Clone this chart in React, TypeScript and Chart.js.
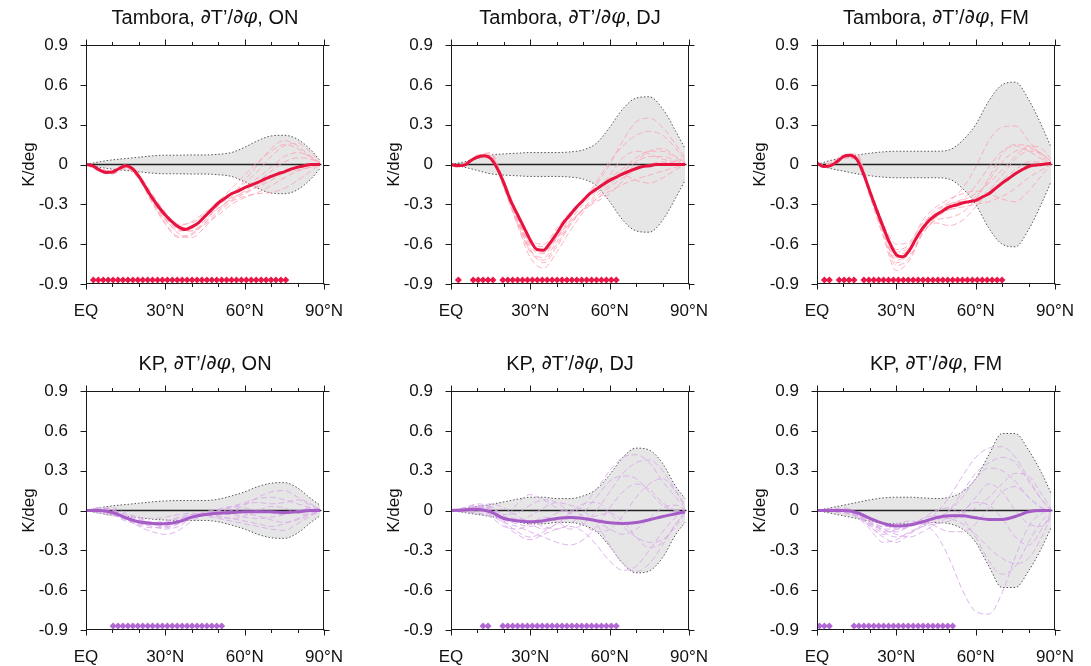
import React, { useEffect, useRef } from 'react';
import { Chart, registerables } from 'chart.js';

Chart.register(...registerables);

const FONT = '"Liberation Sans", Arial, Helvetica, sans-serif';

// ---------- grids & ticks ----------
const LAT_FINE = [0, 2.5, 5, 7.5, 10, 12.5, 15, 17.5, 20, 22.5, 25, 27.5, 30, 32.5, 35, 37.5, 40, 42.5, 45, 47.5, 50, 52.5, 55, 57.5, 60, 62.5, 65, 67.5, 70, 72.5, 75, 77.5, 80, 82.5, 85, 88.5];
const LAT5 = [0, 5, 10, 15, 20, 25, 30, 35, 40, 45, 50, 55, 60, 65, 70, 75, 80, 85, 88.5];
const GAUSS_LAT = [0.93, 2.8, 4.66, 6.53, 8.39, 10.26, 12.12, 13.99, 15.86, 17.72, 19.59, 21.45, 23.32, 25.18, 27.05, 28.91, 30.78, 32.64, 34.51, 36.37, 38.24, 40.1, 41.97, 43.83, 45.7, 47.57, 49.43, 51.3, 53.16, 55.03, 56.89, 58.76, 60.62, 62.49, 64.35, 66.22, 68.08, 69.95, 71.81, 73.68, 75.54, 77.41, 79.27, 81.14, 83.0, 84.87, 86.72, 88.57];
const SIG_Y = -0.87;

const X_TICKS = [0, 30, 60, 90];
const X_TICK_LABELS = ['EQ', '30°N', '60°N', '90°N'];
const X_MINOR = [0, 10, 20, 30, 40, 50, 60, 70, 80, 90];
const Y_TICKS = [-0.9, -0.6, -0.3, 0, 0.3, 0.6, 0.9];
const Y_TICK_LABELS = ['-0.9', '-0.6', '-0.3', '0', '0.3', '0.6', '0.9'];

// ---------- Tambora ----------
const TAMBORA_ON_MEAN = [0, -0.01, -0.04, -0.06, -0.057, -0.03, -0.01, -0.03, -0.09, -0.17, -0.25, -0.32, -0.38, -0.43, -0.47, -0.49, -0.47, -0.44, -0.39, -0.34, -0.29, -0.255, -0.22, -0.2, -0.175, -0.155, -0.135, -0.11, -0.09, -0.07, -0.055, -0.035, -0.02, -0.01, 0, 0];
const TAMBORA_DJ_MEAN = [0, -0.01, -0.005, 0.03, 0.055, 0.065, 0.045, -0.03, -0.14, -0.27, -0.37, -0.47, -0.57, -0.64, -0.645, -0.59, -0.52, -0.44, -0.38, -0.32, -0.27, -0.22, -0.185, -0.15, -0.12, -0.095, -0.07, -0.05, -0.03, -0.015, -0.01, 0, 0, 0, 0, 0];
const TAMBORA_FM_MEAN = [0.01, -0.015, -0.01, 0.02, 0.06, 0.07, 0.04, -0.065, -0.205, -0.34, -0.47, -0.59, -0.68, -0.695, -0.645, -0.555, -0.48, -0.42, -0.38, -0.35, -0.32, -0.305, -0.29, -0.28, -0.27, -0.245, -0.22, -0.18, -0.14, -0.105, -0.07, -0.04, -0.015, -0.005, 0, 0.01];

const TAMBORA_ON_ENV = [0, 0.02, 0.035, 0.045, 0.055, 0.065, 0.07, 0.07, 0.072, 0.072, 0.077, 0.09, 0.13, 0.18, 0.215, 0.22, 0.19, 0.11, 0.03];
const TAMBORA_DJ_ENV = [0, 0.02, 0.045, 0.07, 0.08, 0.085, 0.09, 0.09, 0.09, 0.095, 0.11, 0.16, 0.28, 0.42, 0.5, 0.51, 0.42, 0.25, 0.12];
const TAMBORA_FM_ENV = [0, 0.03, 0.05, 0.07, 0.085, 0.095, 0.1, 0.1, 0.1, 0.1, 0.11, 0.18, 0.3, 0.48, 0.6, 0.62, 0.49, 0.29, 0.13];

const TAMBORA_ON_MEMBERS = [
  [0, -0.03, -0.06, -0.02, -0.1, -0.27, -0.42, -0.5, -0.5, -0.42, -0.33, -0.27, -0.22, -0.17, -0.12, -0.06, -0.02, 0, 0],
  [0, -0.04, -0.07, -0.03, -0.08, -0.22, -0.36, -0.45, -0.44, -0.37, -0.28, -0.18, -0.08, 0.02, 0.1, 0.15, 0.12, 0.05, 0.01],
  [0, -0.03, -0.05, 0, -0.09, -0.26, -0.41, -0.52, -0.55, -0.47, -0.36, -0.28, -0.24, -0.22, -0.21, -0.18, -0.12, -0.05, 0],
  [0, -0.05, -0.07, -0.02, -0.11, -0.28, -0.44, -0.54, -0.52, -0.43, -0.31, -0.22, -0.14, -0.05, 0.06, 0.14, 0.16, 0.09, 0.02],
  [0, -0.04, -0.06, -0.01, -0.08, -0.24, -0.38, -0.47, -0.48, -0.4, -0.33, -0.26, -0.2, -0.13, -0.05, 0.02, 0.05, 0.04, 0],
  [0, -0.03, -0.06, -0.02, -0.1, -0.27, -0.4, -0.46, -0.43, -0.36, -0.3, -0.25, -0.21, -0.16, -0.1, -0.06, -0.04, -0.02, 0],
  [0, -0.04, -0.07, -0.03, -0.11, -0.29, -0.45, -0.55, -0.53, -0.44, -0.35, -0.24, -0.12, 0, 0.12, 0.18, 0.14, 0.06, 0.01],
  [0, -0.04, -0.05, -0.01, -0.09, -0.25, -0.4, -0.49, -0.5, -0.45, -0.38, -0.3, -0.25, -0.21, -0.16, -0.1, -0.05, -0.02, 0],
  [0, -0.03, -0.06, -0.02, -0.1, -0.26, -0.39, -0.48, -0.47, -0.39, -0.3, -0.23, -0.17, -0.1, -0.02, 0.06, 0.09, 0.06, 0.01],
];
const TAMBORA_DJ_MEMBERS = [
  [0, 0, 0.06, 0.07, -0.16, -0.4, -0.6, -0.66, -0.55, -0.4, -0.28, -0.15, 0, 0.18, 0.32, 0.35, 0.28, 0.15, 0.05],
  [0, -0.01, 0.05, 0.05, -0.14, -0.38, -0.58, -0.62, -0.5, -0.38, -0.27, -0.13, 0.02, 0.14, 0.22, 0.25, 0.22, 0.12, 0.03],
  [0, 0, 0.07, 0.08, -0.18, -0.44, -0.66, -0.72, -0.6, -0.45, -0.33, -0.22, -0.12, -0.05, 0.02, 0.06, 0.06, 0.03, 0.01],
  [0, -0.01, 0.05, 0.06, -0.15, -0.42, -0.65, -0.7, -0.58, -0.44, -0.34, -0.26, -0.2, -0.15, -0.11, -0.08, -0.05, -0.02, 0],
  [0, 0, 0.06, 0.09, -0.12, -0.36, -0.56, -0.6, -0.48, -0.36, -0.26, -0.18, -0.1, -0.03, 0.05, 0.1, 0.1, 0.05, 0.01],
  [0, -0.01, 0.06, 0.06, -0.17, -0.45, -0.7, -0.78, -0.66, -0.5, -0.36, -0.26, -0.17, -0.1, -0.04, 0, 0.02, 0.01, 0],
  [0, 0, 0.05, 0.07, -0.15, -0.4, -0.62, -0.67, -0.56, -0.42, -0.3, -0.2, -0.08, 0.05, 0.1, 0.08, 0.04, 0.02, 0],
  [0, -0.01, 0.07, 0.06, -0.16, -0.42, -0.64, -0.74, -0.62, -0.46, -0.34, -0.24, -0.15, -0.08, -0.12, -0.14, -0.1, -0.04, 0],
  [0, 0, 0.06, 0.05, -0.14, -0.39, -0.6, -0.64, -0.55, -0.43, -0.34, -0.28, -0.22, -0.12, 0.02, 0.1, 0.12, 0.06, 0.02],
];
const TAMBORA_FM_MEMBERS = [
  [0, 0, 0.06, 0.05, -0.2, -0.48, -0.66, -0.62, -0.46, -0.36, -0.28, -0.18, -0.02, 0.18, 0.28, 0.29, 0.18, 0.06, 0],
  [0, -0.01, 0.05, 0.04, -0.22, -0.5, -0.72, -0.66, -0.48, -0.4, -0.34, -0.3, -0.24, -0.12, 0.02, 0.1, 0.12, 0.08, 0.02],
  [0, 0.01, 0.07, 0.06, -0.18, -0.44, -0.6, -0.58, -0.44, -0.37, -0.34, -0.32, -0.3, -0.28, -0.24, -0.18, -0.1, -0.04, 0],
  [0, -0.01, 0.06, 0.07, -0.24, -0.54, -0.8, -0.72, -0.52, -0.42, -0.4, -0.36, -0.26, -0.1, 0.08, 0.15, 0.14, 0.08, 0.02],
  [0, 0, 0.05, 0.05, -0.21, -0.47, -0.68, -0.64, -0.5, -0.44, -0.46, -0.42, -0.32, -0.2, -0.08, 0.04, 0.1, 0.08, 0.02],
  [0, 0, 0.07, 0.08, -0.19, -0.45, -0.64, -0.6, -0.42, -0.32, -0.26, -0.22, -0.2, -0.22, -0.26, -0.28, -0.2, -0.08, 0],
  [0, -0.01, 0.06, 0.06, -0.23, -0.52, -0.76, -0.7, -0.5, -0.38, -0.3, -0.26, -0.16, -0.02, 0.1, 0.14, 0.1, 0.04, 0],
  [0, 0.01, 0.05, 0.04, -0.2, -0.48, -0.7, -0.68, -0.52, -0.4, -0.32, -0.28, -0.28, -0.22, -0.12, -0.04, 0.02, 0.02, 0],
  [0, 0, 0.06, 0.05, -0.22, -0.5, -0.74, -0.66, -0.46, -0.34, -0.3, -0.27, -0.22, -0.14, -0.04, 0.06, 0.14, 0.12, 0.04],
];

// ---------- KP ----------
const KP_ON_MEAN = [0, 0, -0.015, -0.055, -0.085, -0.097, -0.1, -0.085, -0.05, -0.03, -0.02, -0.015, -0.01, -0.01, -0.01, -0.015, -0.01, 0, 0];
const KP_DJ_MEAN = [0, 0.004, 0.01, -0.01, -0.06, -0.077, -0.085, -0.077, -0.06, -0.052, -0.06, -0.077, -0.092, -0.097, -0.09, -0.07, -0.045, -0.025, -0.01];
const KP_FM_MEAN = [0, 0, 0, -0.015, -0.06, -0.097, -0.117, -0.11, -0.085, -0.055, -0.04, -0.04, -0.055, -0.067, -0.067, -0.045, -0.01, 0, 0];

const KP_ON_ENV = [0, 0.02, 0.035, 0.045, 0.055, 0.065, 0.072, 0.075, 0.075, 0.075, 0.085, 0.11, 0.14, 0.18, 0.205, 0.21, 0.17, 0.09, 0.04];
const KP_DJ_ENV = [0, 0.015, 0.03, 0.045, 0.065, 0.085, 0.1, 0.1, 0.09, 0.09, 0.11, 0.16, 0.27, 0.4, 0.47, 0.455, 0.355, 0.18, 0.09];
const KP_FM_ENV = [0, 0.02, 0.04, 0.06, 0.08, 0.095, 0.1, 0.1, 0.095, 0.09, 0.1, 0.14, 0.24, 0.42, 0.58, 0.58, 0.455, 0.28, 0.13];

const KP_ON_MEMBERS = [
  [0, 0.02, 0, -0.06, -0.12, -0.16, -0.18, -0.15, -0.08, -0.03, 0, 0.03, 0.06, 0.09, 0.1, 0.08, 0.05, 0.02, 0],
  [0, -0.01, -0.03, -0.08, -0.1, -0.12, -0.14, -0.12, -0.06, -0.04, -0.05, -0.06, -0.08, -0.1, -0.12, -0.1, -0.06, -0.02, 0],
  [0, 0.01, 0.02, -0.02, -0.05, -0.06, -0.05, -0.03, -0.02, -0.03, -0.02, 0, 0.04, 0.1, 0.14, 0.15, 0.1, 0.05, 0.01],
  [0, -0.02, -0.04, -0.05, -0.08, -0.1, -0.13, -0.1, -0.05, -0.02, -0.04, -0.06, -0.04, 0, 0.03, 0.02, -0.02, -0.03, -0.01],
  [0, 0.01, 0, -0.04, -0.07, -0.09, -0.08, -0.05, -0.03, -0.04, -0.06, -0.08, -0.1, -0.12, -0.14, -0.15, -0.1, -0.04, 0],
  [0, 0, -0.02, -0.06, -0.1, -0.1, -0.09, -0.06, -0.04, -0.01, 0.01, 0.03, 0.02, 0, -0.02, -0.03, 0, 0.02, 0.01],
  [0, -0.01, -0.01, -0.03, -0.06, -0.09, -0.12, -0.1, -0.06, -0.03, 0, 0.02, 0.05, 0.06, 0.05, 0.06, 0.08, 0.04, 0.01],
  [0, 0.02, 0.01, -0.05, -0.09, -0.11, -0.1, -0.08, -0.05, -0.04, -0.03, -0.03, -0.05, -0.06, -0.05, -0.03, 0, 0.01, 0],
  [0, 0, -0.03, -0.07, -0.11, -0.13, -0.12, -0.07, -0.03, -0.02, -0.01, 0.01, -0.02, -0.04, -0.07, -0.09, -0.07, -0.03, 0],
];
const KP_DJ_MEMBERS = [
  [0, 0.02, 0.04, 0, -0.06, 0.05, 0.12, 0.08, 0.02, -0.02, 0.04, 0.16, 0.3, 0.4, 0.42, 0.36, 0.22, 0.1, 0.02],
  [0, 0.01, 0.02, 0.03, -0.1, -0.18, -0.22, -0.18, -0.14, -0.12, -0.16, -0.26, -0.38, -0.45, -0.42, -0.3, -0.16, -0.05, 0],
  [0, 0, -0.02, -0.05, -0.12, -0.14, -0.1, -0.05, -0.08, -0.14, -0.1, 0, 0.14, 0.28, 0.36, 0.38, 0.3, 0.15, 0.04],
  [0, 0.02, 0.03, 0.05, 0.02, -0.04, -0.1, -0.14, -0.1, -0.02, 0.05, 0.06, -0.02, -0.12, -0.2, -0.24, -0.22, -0.12, -0.02],
  [0, -0.01, -0.02, -0.04, -0.09, -0.12, -0.16, -0.2, -0.24, -0.26, -0.22, -0.12, 0.02, 0.14, 0.2, 0.16, 0.06, 0, -0.01],
  [0, 0.01, 0.02, 0.02, -0.04, -0.08, -0.04, 0.02, 0.06, 0.04, 0, -0.1, -0.26, -0.4, -0.46, -0.4, -0.26, -0.1, -0.02],
  [0, 0, 0.01, -0.02, -0.07, -0.1, -0.12, -0.08, -0.02, 0, -0.04, -0.08, -0.14, -0.18, -0.14, -0.06, 0.02, 0.04, 0.01],
  [0, 0.02, 0.05, 0.03, -0.03, -0.02, 0.04, 0.08, 0.06, -0.02, -0.1, -0.16, -0.14, -0.04, 0.1, 0.2, 0.24, 0.14, 0.03],
  [0, -0.01, 0, -0.03, -0.08, -0.16, -0.2, -0.16, -0.1, -0.06, -0.06, -0.04, -0.02, -0.08, -0.2, -0.28, -0.24, -0.1, -0.01],
  [0, 0.01, 0.03, 0.01, -0.05, -0.06, -0.08, -0.12, -0.14, -0.1, -0.02, 0.1, 0.22, 0.26, 0.24, 0.14, 0.04, 0, 0],
];
const KP_FM_MEMBERS = [
  [0, 0, -0.01, -0.04, -0.1, -0.12, -0.1, -0.08, -0.1, -0.18, -0.36, -0.6, -0.76, -0.78, -0.62, -0.35, -0.12, -0.02, 0],
  [0, 0.01, 0.02, -0.02, -0.12, -0.2, -0.24, -0.18, -0.1, -0.02, 0.1, 0.26, 0.4, 0.47, 0.48, 0.4, 0.24, 0.08, 0],
  [0, 0, 0, -0.03, -0.08, -0.16, -0.2, -0.17, -0.12, -0.06, 0, 0.1, 0.24, 0.32, 0.3, 0.22, 0.1, 0.02, 0],
  [0, 0.01, 0.01, -0.04, -0.12, -0.18, -0.14, -0.1, -0.08, -0.12, -0.16, -0.16, -0.1, 0.02, 0.14, 0.18, 0.1, 0.02, -0.01],
  [0, -0.01, -0.02, -0.05, -0.14, -0.24, -0.22, -0.16, -0.12, -0.1, -0.08, -0.02, 0.1, 0.2, 0.14, 0, -0.1, -0.12, -0.04],
  [0, 0, 0.01, -0.02, -0.06, -0.1, -0.14, -0.12, -0.06, 0, 0.02, -0.06, -0.2, -0.38, -0.48, -0.42, -0.24, -0.08, -0.01],
  [0, 0.01, 0, -0.03, -0.09, -0.14, -0.18, -0.2, -0.16, -0.1, -0.05, 0, 0.06, 0.04, -0.06, -0.2, -0.26, -0.14, -0.02],
  [0, 0, -0.01, -0.04, -0.11, -0.16, -0.16, -0.12, -0.06, -0.04, -0.06, -0.1, -0.18, -0.28, -0.36, -0.4, -0.36, -0.2, -0.04],
  [0, 0, 0.01, -0.02, -0.07, -0.12, -0.12, -0.1, -0.1, -0.08, 0, 0.14, 0.28, 0.36, 0.4, 0.36, 0.22, 0.08, 0.01],
  [0, 0.01, 0, -0.03, -0.1, -0.14, -0.14, -0.12, -0.08, -0.06, -0.06, -0.02, 0.02, 0.1, 0.2, 0.28, 0.26, 0.12, 0.02],
];

// ---------- significance (index ranges into GAUSS_LAT) ----------
const TAMBORA_ON_SIG = [[1, 40]];
const TAMBORA_DJ_SIG = [[1, 1], [4, 8], [10, 33]];
const TAMBORA_FM_SIG = [[1, 2], [4, 7], [9, 37]];
const KP_ON_SIG = [[5, 27]];
const KP_DJ_SIG = [[6, 7], [10, 33]];
const KP_FM_SIG = [[0, 2], [7, 27]];

const TAMBORA_STYLE = { mean: '#e8123f', member: 'rgba(252,165,182,0.85)', sig: '#e8194a' };
const KP_STYLE = { mean: '#a65cc6', member: 'rgba(218,172,234,0.9)', sig: '#b267d4' };

type PanelDef = {
  name: string; season: string; mean: number[]; meanLat: number[]; env: number[];
  members: number[][]; sig: number[][]; style: typeof TAMBORA_STYLE; col: number; row: number;
};

const PANELS: PanelDef[] = [
  { name: 'Tambora', season: 'ON', mean: TAMBORA_ON_MEAN, meanLat: LAT_FINE, env: TAMBORA_ON_ENV, members: TAMBORA_ON_MEMBERS, sig: TAMBORA_ON_SIG, style: TAMBORA_STYLE, col: 0, row: 0 },
  { name: 'Tambora', season: 'DJ', mean: TAMBORA_DJ_MEAN, meanLat: LAT_FINE, env: TAMBORA_DJ_ENV, members: TAMBORA_DJ_MEMBERS, sig: TAMBORA_DJ_SIG, style: TAMBORA_STYLE, col: 1, row: 0 },
  { name: 'Tambora', season: 'FM', mean: TAMBORA_FM_MEAN, meanLat: LAT_FINE, env: TAMBORA_FM_ENV, members: TAMBORA_FM_MEMBERS, sig: TAMBORA_FM_SIG, style: TAMBORA_STYLE, col: 2, row: 0 },
  { name: 'KP', season: 'ON', mean: KP_ON_MEAN, meanLat: LAT5, env: KP_ON_ENV, members: KP_ON_MEMBERS, sig: KP_ON_SIG, style: KP_STYLE, col: 0, row: 1 },
  { name: 'KP', season: 'DJ', mean: KP_DJ_MEAN, meanLat: LAT5, env: KP_DJ_ENV, members: KP_DJ_MEMBERS, sig: KP_DJ_SIG, style: KP_STYLE, col: 1, row: 1 },
  { name: 'KP', season: 'FM', mean: KP_FM_MEAN, meanLat: LAT5, env: KP_FM_ENV, members: KP_FM_MEMBERS, sig: KP_FM_SIG, style: KP_STYLE, col: 2, row: 1 },
];

// layout
const COL_LEFT = [86, 451, 817];
const ROW_CANVAS_TOP = [0, 346];
const ROW_CANVAS_H = [330, 320];
const AREA_TOP = 45;
const AREA_W = 240;
const AREA_H = 239;
const Y_AXIS_W = 86;
const RIGHT_PAD = 34;
const TICK_FONT = 17;
const TITLE_FONT = 20;

const framePlugin = {
  id: 'frameTicks',
  afterDatasetsDraw(chart: any) {
    const { ctx, chartArea: a, scales } = chart;
    const x = scales.x, y = scales.y;
    ctx.save();
    ctx.strokeStyle = '#1a1a1a';
    ctx.lineWidth = 1;
    const l = Math.round(a.left) + 0.5, r = Math.round(a.right) - 0.5;
    const t = Math.round(a.top) + 0.5, b = Math.round(a.bottom) - 0.5;
    ctx.strokeRect(l, t, r - l, b - t);
    ctx.beginPath();
    X_MINOR.forEach((v) => {
      const px = Math.round(x.getPixelForValue(v)) + 0.5;
      const len = X_TICKS.includes(v) ? 6 : 3.5;
      ctx.moveTo(px, b); ctx.lineTo(px, b + len);
      ctx.moveTo(px, t); ctx.lineTo(px, t - len);
    });
    Y_TICKS.forEach((v) => {
      const py = Math.round(y.getPixelForValue(v)) + 0.5;
      ctx.moveTo(l - 6, py); ctx.lineTo(l, py);
      ctx.moveTo(r, py); ctx.lineTo(r + 6, py);
    });
    ctx.stroke();
    ctx.restore();
  },
};

function makeTitlePlugin(p: PanelDef) {
  const segs = [
    { t: p.name + ', ', f: `${TITLE_FONT}px ${FONT}` },
    { t: '∂', f: `${TITLE_FONT}px "DejaVu Sans", sans-serif` },
    { t: 'T’/', f: `${TITLE_FONT}px ${FONT}` },
    { t: '∂', f: `${TITLE_FONT}px "DejaVu Sans", sans-serif` },
    { t: 'φ', f: `italic ${TITLE_FONT}px "DejaVu Serif", serif` },
    { t: ', ' + p.season, f: `${TITLE_FONT}px ${FONT}` },
  ];
  return {
    id: 'mixedTitle',
    afterDraw(chart: any) {
      const { ctx, chartArea: a } = chart;
      ctx.save();
      ctx.fillStyle = '#111';
      ctx.textBaseline = 'middle';
      let total = 0;
      const widths = segs.map((s) => { ctx.font = s.f; const w = ctx.measureText(s.t).width; total += w; return w; });
      let cx = (a.left + a.right) / 2 - total / 2;
      const cy = a.top - 27;
      segs.forEach((s, i) => { ctx.font = s.f; ctx.fillText(s.t, cx, cy); cx += widths[i]; });
      ctx.restore();
    },
  };
}

function labelFor(ticks: number[], labels: string[], v: number) {
  const i = ticks.findIndex((t) => Math.abs(t - v) < 1e-6);
  return i >= 0 ? labels[i] : '';
}

function Panel({ p }: { p: PanelDef }) {
  const ref = useRef<HTMLCanvasElement>(null);
  const canvasLeft = COL_LEFT[p.col] - Y_AXIS_W;
  const canvasTop = ROW_CANVAS_TOP[p.row];
  const canvasW = Y_AXIS_W + AREA_W + RIGHT_PAD;
  const canvasH = ROW_CANVAS_H[p.row];

  useEffect(() => {
    if (!ref.current) return;
    const toPts = (lat: number[], vals: number[]) => vals.map((v, i) => ({ x: lat[i], y: v }));
    const sigPts: { x: number; y: number }[] = [];
    p.sig.forEach(([s, e]) => { for (let k = s; k <= e; k++) sigPts.push({ x: GAUSS_LAT[k], y: SIG_Y }); });

    const memberSets = p.members.map((m, i) => ({
      label: 'member' + i,
      data: toPts(LAT5, m),
      borderColor: p.style.member,
      borderWidth: 1,
      borderDash: [6, 3],
      pointRadius: 0,
      cubicInterpolationMode: 'monotone' as const,
      fill: false,
      order: 2,
    }));

    const datasets: any[] = [
      { label: 'sig', data: sigPts, showLine: false, pointStyle: 'rectRot', pointRadius: 3.5, pointBackgroundColor: p.style.sig, pointBorderColor: p.style.sig, pointBorderWidth: 0, order: 0 },
      { label: 'mean', data: toPts(p.meanLat, p.mean), borderColor: p.style.mean, borderWidth: 3, pointRadius: 0, cubicInterpolationMode: 'monotone', fill: false, order: 1 },
      ...memberSets,
      { label: 'zero', data: [{ x: 0, y: 0 }, { x: 89, y: 0 }], borderColor: '#222', borderWidth: 1.4, pointRadius: 0, fill: false, order: 3 },
      { label: 'envLow', data: toPts(LAT5, p.env.map((v) => -v)), borderColor: '#555', borderWidth: 1, borderDash: [1.5, 2], pointRadius: 0, cubicInterpolationMode: 'monotone', fill: false, order: 4 },
      { label: 'envUp', data: toPts(LAT5, p.env), borderColor: '#555', borderWidth: 1, borderDash: [1.5, 2], pointRadius: 0, cubicInterpolationMode: 'monotone', fill: '-1', backgroundColor: '#e6e6e6', order: 5 },
    ];

    const chart = new Chart(ref.current, {
      type: 'line',
      data: { datasets },
      plugins: [framePlugin, makeTitlePlugin(p)],
      options: {
        responsive: false,
        animation: false,
        devicePixelRatio: 1,
        layout: { padding: { top: AREA_TOP, right: RIGHT_PAD, left: 0, bottom: 0 } },
        plugins: { legend: { display: false }, tooltip: { enabled: false }, title: { display: false } },
        scales: {
          x: {
            type: 'linear', min: 0, max: 90,
            afterBuildTicks: (s: any) => { s.ticks = X_TICKS.map((v) => ({ value: v })); },
            afterFit: (s: any) => { s.height = canvasH - AREA_TOP - AREA_H; },
            ticks: { callback: (v: any) => labelFor(X_TICKS, X_TICK_LABELS, Number(v)), font: { family: FONT, size: TICK_FONT }, color: '#111', padding: 17, maxRotation: 0, autoSkip: false },
            grid: { display: false, drawTicks: false },
            border: { display: false },
          },
          y: {
            type: 'linear', min: -0.9, max: 0.9,
            afterBuildTicks: (s: any) => { s.ticks = Y_TICKS.map((v) => ({ value: v })); },
            afterFit: (s: any) => { s.width = Y_AXIS_W; },
            ticks: { callback: (v: any) => labelFor(Y_TICKS, Y_TICK_LABELS, Number(v)), font: { family: FONT, size: TICK_FONT }, color: '#111', padding: 18, autoSkip: false },
            grid: { display: false, drawTicks: false },
            border: { display: false },
            title: { display: true, text: 'K/deg', font: { family: FONT, size: TICK_FONT }, color: '#111', padding: { top: 19, bottom: 0 } },
          },
        },
      } as any,
    });
    return () => chart.destroy();
  }, []);

  return (
    <canvas
      ref={ref}
      width={canvasW}
      height={canvasH}
      style={{ position: 'absolute', left: canvasLeft, top: canvasTop, width: canvasW, height: canvasH }}
    />
  );
}

export default function App() {
  return (
    <div style={{ position: 'absolute', left: 0, top: 0, width: 1091, height: 666, background: '#fff', overflow: 'hidden' }}>
      {PANELS.map((p, i) => <Panel key={i} p={p} />)}
    </div>
  );
}
